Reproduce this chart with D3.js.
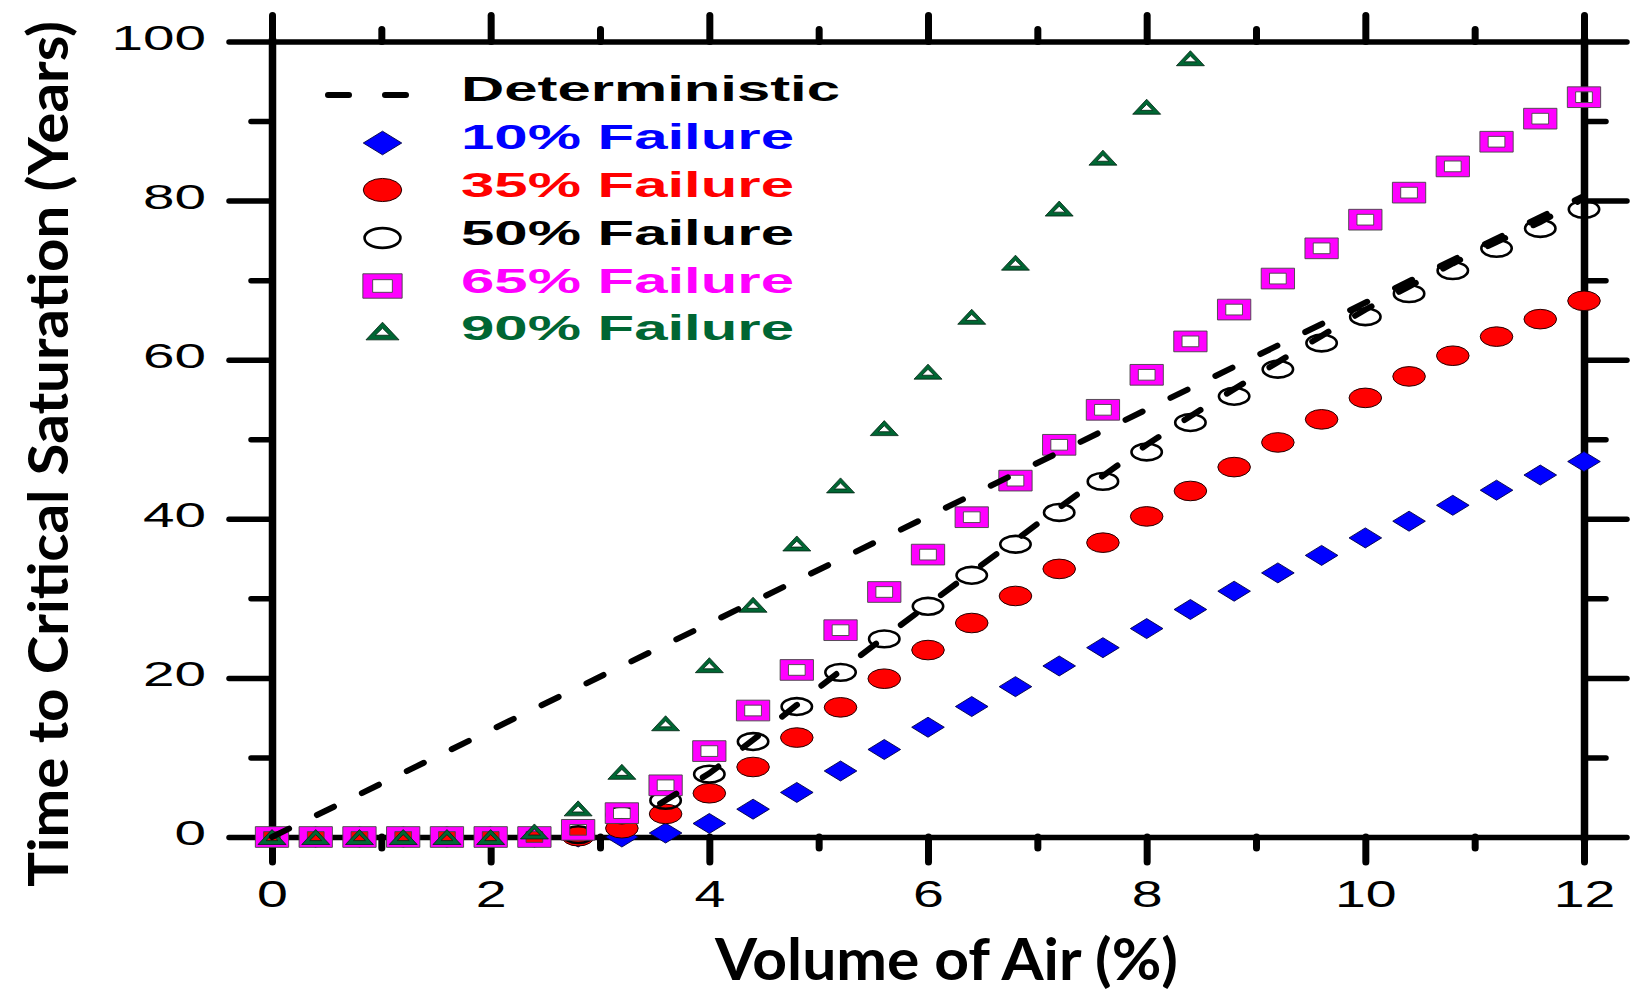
<!DOCTYPE html>
<html>
<head>
<meta charset="utf-8">
<title>Time to Critical Saturation vs Volume of Air</title>
<script src="https://cdn.jsdelivr.net/npm/d3@7"></script>
<style>
  html, body { margin: 0; padding: 0; background: #ffffff; }
  svg { display: block; }
</style>
</head>
<body>
<svg id="chart" width="1637" height="992"></svg>
<script>
// ---- data ---------------------------------------------------------------
// Air volume (%) at which each failure percentile was evaluated
const airVolume = [0, 0.4, 0.8, 1.2, 1.6, 2.0, 2.4, 2.8, 3.2, 3.6, 4.0, 4.4, 4.8, 5.2, 5.6,
                   6.0, 6.4, 6.8, 7.2, 7.6, 8.0, 8.4, 8.8, 9.2, 9.6, 10.0, 10.4, 10.8, 11.2, 11.6, 12.0];

// Time to critical saturation (years) for each failure percentile
const failure10 = [0, 0, 0, 0, 0, 0, 0, 0, 0, 0.5, 1.7, 3.5, 5.6, 8.3, 11.0,
                   13.8, 16.4, 18.9, 21.5, 23.8, 26.2, 28.6, 30.9, 33.2, 35.4, 37.6, 39.7, 41.7, 43.6, 45.5, 47.2];
const failure35 = [0, 0, 0, 0, 0, 0, 0, 0.1, 1.1, 2.9, 5.5, 8.8, 12.5, 16.3, 19.9,
                   23.5, 26.9, 30.3, 33.7, 37.0, 40.3, 43.5, 46.5, 49.6, 52.5, 55.2, 57.9, 60.5, 62.9, 65.1, 67.4];
const failure50 = [0, 0, 0, 0, 0, 0, 0, 0.3, 2.8, 4.6, 7.9, 12.0, 16.4, 20.7, 24.9,
                   29.0, 32.9, 36.8, 40.8, 44.7, 48.4, 52.1, 55.4, 58.8, 62.1, 65.4, 68.3, 71.2, 74.0, 76.5, 78.9];
const failure65 = [0, 0, 0, 0, 0, 0, 0, 0.9, 3.0, 6.5, 10.8, 15.9, 21.0, 26.0, 30.8,
                   35.5, 40.2, 44.8, 49.3, 53.7, 58.1, 62.3, 66.3, 70.2, 74.0, 77.6, 81.0, 84.3, 87.4, 90.3, 93.0];
const failure90 = [0, 0, 0, 0, 0, 0, 0.7, 3.6, 8.2, 14.3, 21.6, 29.2, 36.9, 44.2, 51.4,
                   58.5, 65.4, 72.2, 79.0, 85.4, 91.8, 97.9];

// Deterministic estimates (dashed): straight trend and the onset curve
const deterministicX = [0, 12];
const deterministicY = [0, 80.6];
const onsetX = [3.55, 4.0, 4.4, 4.8, 5.2, 5.6, 6.0, 6.4, 6.8, 7.2, 7.6, 8.0, 8.4, 8.8,
                9.2, 9.6, 10.0, 10.4, 10.8, 11.2, 11.6, 12.0];
const onsetY = [4.2, 8.0, 12.2, 16.6, 20.9, 25.1, 29.2, 33.3, 37.3, 41.4, 45.4, 49.3, 52.9, 56.3,
                59.7, 63.0, 66.3, 69.2, 72.1, 74.8, 77.3, 80.3];

// Axis ticks and titles
const xMajorTicks = [0, 2, 4, 6, 8, 10, 12];
const xMinorTicks = [1, 3, 5, 7, 9, 11];
const yMajorTicks = [0, 20, 40, 60, 80, 100];
const yMinorTicks = [10, 30, 50, 70, 90];
const xTitle = "Volume of Air (%)";
const yTitle = "Time to Critical Saturation (Years)";

// Legend entries
const legendLabels = ["Deterministic", "10% Failure", "35% Failure", "50% Failure", "65% Failure", "90% Failure"];

// ---- setup --------------------------------------------------------------
const svg = d3.select("#chart");
const tickFont = "'Liberation Sans', Arial, sans-serif";
const titleFont = "Lato, 'Open Sans', sans-serif";

const x = d3.scaleLinear().domain([0, 12]).range([272, 1584]);
const y = d3.scaleLinear().domain([0, 100]).range([837, 41.5]);

const colors = {
  blue: "#0000ff",
  red: "#ff0000",
  black: "#000000",
  magenta: "#ff00ff",
  green: "#006633"
};

// ---- marker shapes ------------------------------------------------------
const shapes = {
  diamond(g, s) {
    g.append("path")
      .attr("d", `M0,${-10 * s}L${16.3 * s},0L0,${10 * s}L${-16.3 * s},0Z`)
      .attr("fill", colors.blue).attr("stroke", "#000044").attr("stroke-width", 0.9);
  },
  dot(g, s) {
    g.append("ellipse").attr("rx", 16.3 * s).attr("ry", 9.8 * s)
      .attr("fill", colors.red).attr("stroke", "#220000").attr("stroke-width", 1);
  },
  ring(g, s) {
    g.append("ellipse").attr("rx", 15.2 * s).attr("ry", 8.4 * s)
      .attr("fill", "none").attr("stroke", "#000").attr("stroke-width", 2.6);
  },
  square(g, s) {
    const ow = 33.3 * s, oh = 20.7 * s, iw = 16.7 * s, ih = 10.7 * s;
    g.append("path")
      .attr("d", `M${-ow / 2},${-oh / 2}h${ow}v${oh}h${-ow}Z M${-iw / 2},${-ih / 2}h${iw}v${ih}h${-iw}Z`)
      .attr("fill", colors.magenta).attr("fill-rule", "evenodd")
      .attr("stroke", "#444").attr("stroke-width", 0.9);
  },
  triangle(g, s) {
    g.append("path")
      .attr("d", `M0,${-7.5 * s}L${14 * s},${7.5 * s}L${-14 * s},${7.5 * s}Z M0,${-2.3 * s}L${-6 * s},${3.6 * s}L${6 * s},${3.6 * s}Z`)
      .attr("fill", colors.green).attr("fill-rule", "evenodd")
      .attr("stroke", "#002211").attr("stroke-width", 0.8);
  }
};

const series = [
  { values: failure10, shape: "diamond", color: colors.blue },
  { values: failure35, shape: "dot", color: colors.red },
  { values: failure50, shape: "ring", color: colors.black },
  { values: failure65, shape: "square", color: colors.magenta },
  { values: failure90, shape: "triangle", color: colors.green }
];

// ---- axes ---------------------------------------------------------------
function styleAxis(g, domainWidth, tickWidth) {
  g.attr("fill", null).attr("font-size", null).attr("font-family", null);
  g.select(".domain").attr("stroke", "#000").attr("stroke-width", domainWidth).attr("stroke-linecap", "square");
  g.selectAll(".tick line").attr("stroke", "#000").attr("stroke-width", tickWidth).attr("stroke-linecap", "round");
}

function addAxis(gen, translate, values, len, labels, domainWidth, tickWidth) {
  const axis = gen.tickValues(values).tickSize(len).tickSizeOuter(0);
  if (!labels) axis.tickFormat("");
  const g = svg.append("g").attr("transform", translate).call(axis);
  styleAxis(g, domainWidth, tickWidth);
  return g;
}

// bottom
addAxis(d3.axisBottom(x), `translate(0,${y(0)})`, xMinorTicks, 11, false, 5.5, 7).select(".domain").remove();
const gBottom = addAxis(d3.axisBottom(x), `translate(0,${y(0)})`, xMajorTicks, 25, true, 5.5, 7);
gBottom.selectAll(".tick text")
  .attr("y", null).attr("dy", null)
  .attr("transform", "translate(0,70) scale(1.5,1)")
  .attr("text-anchor", "middle")
  .attr("font-family", tickFont).attr("font-size", 37).attr("fill", "#000");

// top
addAxis(d3.axisTop(x), `translate(0,${y(100)})`, xMinorTicks, 12, false, 5.5, 7).select(".domain").remove();
addAxis(d3.axisTop(x), `translate(0,${y(100)})`, xMajorTicks, 26, false, 5.5, 7);

// left
addAxis(d3.axisLeft(y), `translate(${x(0)},0)`, yMinorTicks, 21, false, 7.5, 5.5).select(".domain").remove();
const gLeft = addAxis(d3.axisLeft(y), `translate(${x(0)},0)`, yMajorTicks, 43, true, 7.5, 5.5);
gLeft.selectAll(".tick text")
  .attr("x", null).attr("dy", null)
  .attr("transform", "translate(-66,7.5) scale(1.62,1)")
  .attr("text-anchor", "end")
  .attr("font-family", tickFont).attr("font-size", 35).attr("fill", "#000");

// right
addAxis(d3.axisRight(y), `translate(${x(12)},0)`, yMinorTicks, 22, false, 7.5, 5.5).select(".domain").remove();
addAxis(d3.axisRight(y), `translate(${x(12)},0)`, yMajorTicks, 43, false, 7.5, 5.5);

// axis titles
svg.append("text")
  .attr("x", 946.5).attr("y", 980)
  .attr("text-anchor", "middle")
  .attr("font-family", titleFont).attr("font-weight", 700).attr("font-size", 58)
  .attr("textLength", 463).attr("lengthAdjust", "spacingAndGlyphs")
  .attr("fill", "#000")
  .text(xTitle);

svg.append("text")
  .attr("transform", "translate(68,454) rotate(-90)")
  .attr("text-anchor", "middle")
  .attr("font-family", titleFont).attr("font-weight", 700).attr("font-size", 56)
  .attr("textLength", 866).attr("lengthAdjust", "spacingAndGlyphs")
  .attr("fill", "#000")
  .text(yTitle);

// ---- markers ------------------------------------------------------------
series.forEach(s => {
  const pts = s.values.map((v, i) => [airVolume[i], v]);
  svg.append("g")
    .selectAll("g")
    .data(pts)
    .join("g")
    .attr("transform", d => `translate(${x(d[0])},${y(d[1])})`)
    .each(function () { shapes[s.shape](d3.select(this), 1); });
});

// ---- deterministic dashed lines -----------------------------------------
const line = d3.line().x(d => x(d[0])).y(d => y(d[1]));
const dashStyle = sel => sel
  .attr("fill", "none").attr("stroke", "#000").attr("stroke-width", 6)
  .attr("stroke-linecap", "round").attr("stroke-dasharray", "19 31");

svg.append("path")
  .datum(deterministicX.map((v, i) => [v, deterministicY[i]]))
  .attr("d", line).call(dashStyle);

svg.append("path")
  .datum(onsetX.map((v, i) => [v, onsetY[i]]))
  .attr("d", line).call(dashStyle);

// ---- legend -------------------------------------------------------------
const legendRows = [95, 143, 190, 238, 286, 331];
const legendBaselines = [101, 149, 197, 245, 293, 340];
const legendWidths = [379, 333, 333, 333, 333, 333];
const legendColors = [colors.black, colors.blue, colors.red, colors.black, colors.magenta, colors.green];
const legendShapes = [null, "diamond", "dot", "ring", "square", "triangle"];

const legend = svg.append("g");
legendLabels.forEach((label, i) => {
  const row = legend.append("g");
  if (legendShapes[i] === null) {
    row.append("line")
      .attr("x1", 328).attr("x2", 406)
      .attr("y1", legendRows[i]).attr("y2", legendRows[i])
      .attr("stroke", "#000").attr("stroke-width", 6)
      .attr("stroke-linecap", "round").attr("stroke-dasharray", "21 36");
  } else {
    const m = row.append("g").attr("transform", `translate(382.5,${legendRows[i]})`);
    shapes[legendShapes[i]](m, 1.18);
  }
  row.append("text")
    .attr("x", 461).attr("y", legendBaselines[i])
    .attr("font-family", tickFont).attr("font-weight", 700).attr("font-size", 35)
    .attr("textLength", legendWidths[i]).attr("lengthAdjust", "spacingAndGlyphs")
    .attr("fill", legendColors[i])
    .text(label);
});
</script>
</body>
</html>
